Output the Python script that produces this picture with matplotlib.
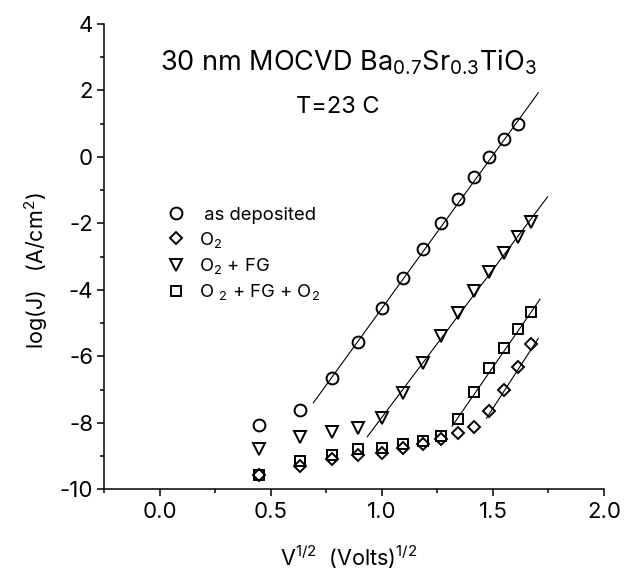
import matplotlib
matplotlib.use("Agg")
import matplotlib.pyplot as plt
from matplotlib.ticker import MultipleLocator

plt.rcParams['font.family'] = ['Inter', 'DejaVu Sans']
plt.rcParams['mathtext.fontset'] = 'custom'
plt.rcParams['mathtext.rm'] = 'Inter'
plt.rcParams['mathtext.it'] = 'Inter:italic'
plt.rcParams['axes.unicode_minus'] = False

# sqrt(V) values of the measured points
sqrt_v = [0.447, 0.632, 0.775, 0.894, 1.000, 1.095, 1.183, 1.265, 1.342, 1.414, 1.483, 1.549, 1.612, 1.673]

# log(J) for each anneal condition
as_dep = [-8.07, -7.61, -6.64, -5.57, -4.56, -3.63, -2.78, -1.98, -1.26, -0.60, 0.01, 0.53, 0.98]
o2 = [-9.58, -9.30, -9.10, -8.97, -8.90, -8.77, -8.65, -8.49, -8.30, -8.12, -7.645, -7.01, -6.33, -5.63]
o2_fg = [-8.80, -8.44, -8.27, -8.15, -7.85, -7.11, -6.21, -5.39, -4.69, -4.03, -3.45, -2.88, -2.40, -1.95]
o2_fg_o2 = [-9.57, -9.14, -8.97, -8.80, -8.75, -8.65, -8.55, -8.40, -7.89, -7.08, -6.36, -5.74, -5.18, -4.68]

# straight line fits (end points)
fit_asdep_x, fit_asdep_y = [0.691, 1.704], [-7.40, 1.93]
fit_fg_x, fit_fg_y = [0.934, 1.746], [-8.42, -1.20]
fit_fgo2_x, fit_fgo2_y = [1.316, 1.712], [-8.10, -4.28]
fit_o2_x, fit_o2_y = [1.471, 1.704], [-7.86, -5.46]

fig = plt.figure(figsize=(6.35, 5.72), dpi=100)
ax = fig.add_axes([104.3/635, 1-489.3/572, 499.7/635, 465.3/572])

mk = dict(ls='none', mfc='none', mec='k', mew=1.4)
ax.plot(sqrt_v[:13], as_dep, marker='o', ms=8.5, label=' as deposited', **mk)
ax.plot(sqrt_v, o2, marker='D', ms=6.3, label=r'O$_\mathregular{2}$', **mk)
ax.plot(sqrt_v, o2_fg, marker='v', ms=9, label=r'O$_\mathregular{2}$ + FG', **mk)
ax.plot(sqrt_v, o2_fg_o2, marker='s', ms=7.5, label=r'O $_\mathregular{2}$ + FG + O$_\mathregular{2}$', **mk)

for fx, fy in [(fit_asdep_x, fit_asdep_y), (fit_fg_x, fit_fg_y),
               (fit_fgo2_x, fit_fgo2_y), (fit_o2_x, fit_o2_y)]:
    ax.plot(fx, fy, color='k', lw=0.8)

ax.set_xlim(-0.25, 2.0)
ax.set_ylim(-10, 4)
ax.xaxis.set_major_locator(MultipleLocator(0.5))
ax.xaxis.set_minor_locator(MultipleLocator(0.25))
ax.yaxis.set_major_locator(MultipleLocator(2))
ax.yaxis.set_minor_locator(MultipleLocator(1))
ax.spines['top'].set_visible(False)
ax.spines['right'].set_visible(False)
for s in ['left', 'bottom']:
    ax.spines[s].set_linewidth(1.1)
ax.tick_params(which='major', length=5, width=1.1, labelsize=16)
ax.tick_params(which='minor', length=3, width=1.1)
ax.tick_params(axis='x', which='major', pad=4)
ax.tick_params(axis='y', which='major', pad=3)

ax.set_xlabel(r'V$^\mathregular{1/2}$  (Volts)$^\mathregular{1/2}$', fontsize=15.5)
ax.set_ylabel(r'log(J)   (A/cm$^\mathregular{2}$)', fontsize=15.5)
ax.xaxis.set_label_coords(0.489, -0.117)
ax.yaxis.set_label_coords(-0.108, 0.47)

ax.text(0.851, 2.61, r'30 nm MOCVD Ba$_\mathregular{0.7}$Sr$_\mathregular{0.3}$TiO$_\mathregular{3}$',
        fontsize=19.5, ha='center', va='baseline')
ax.text(0.80, 1.32, 'T=23 C', fontsize=17, ha='center', va='baseline')

ax.legend(loc='upper left', bbox_to_anchor=(0.1247, 0.607), frameon=False, fontsize=13.3,
          numpoints=1, handlelength=1.0, handletextpad=0.78, labelspacing=0.33,
          borderpad=0, borderaxespad=0)

fig.savefig('out.png', dpi=100)
